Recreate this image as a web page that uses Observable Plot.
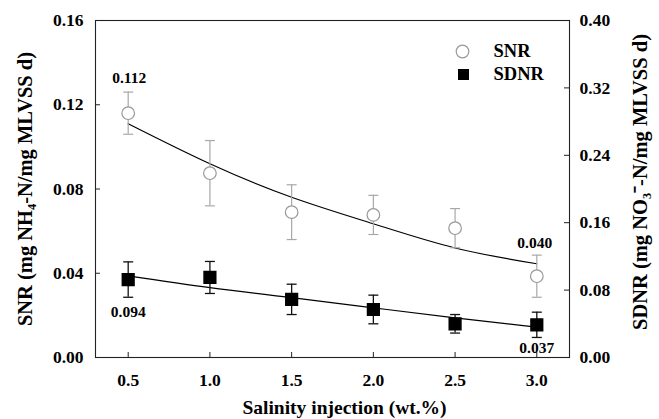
<!DOCTYPE html>
<html><head><meta charset="utf-8">
<script src="https://cdn.jsdelivr.net/npm/d3@7"></script>
<script src="https://cdn.jsdelivr.net/npm/@observablehq/plot@0.6"></script>
<style>
body{margin:0;background:#fff}
svg{display:block}
</style>
</head><body><div id="chart"></div>
<script>
// ---- data ----
const salinity = [0.5, 1.0, 1.5, 2.0, 2.5, 3.0];
const snr      = [0.116, 0.0875, 0.069, 0.0677, 0.0614, 0.0386];   // left axis units
const snrErr   = [0.010, 0.0155, 0.013, 0.0093, 0.0093, 0.010];
const sdnr     = [0.0925, 0.095, 0.069, 0.057, 0.040, 0.0388];     // right axis units
const sdnrErr  = [0.021, 0.019, 0.018, 0.017, 0.011, 0.015];
const snrFit   = [0.111, 0.092, 0.0761, 0.0635, 0.052, 0.0445];    // fitted curve (left units)
const sdnrFit  = [0.097, 0.083, 0.071, 0.059, 0.047, 0.036];       // fitted curve (right units)

const xTicks = [0.5, 1.0, 1.5, 2.0, 2.5, 3.0];
const xTickLabels = ["0.5", "1.0", "1.5", "2.0", "2.5", "3.0"];
const yTicks = [0, 0.04, 0.08, 0.12, 0.16];
const yTickLabels = ["0.00", "0.04", "0.08", "0.12", "0.16"];
const y2Ticks = [0, 0.08, 0.16, 0.24, 0.32, 0.40];
const y2TickLabels = ["0.00", "0.08", "0.16", "0.24", "0.32", "0.40"];
const legendLabels = ["SNR", "SDNR"];
const pointLabels = ["0.112", "0.094", "0.040", "0.037"];
const xTitle = "Salinity injection (wt.%)";
const yTitle = "SNR (mg NH\u2084-N/mg MLVSS d)";
const y2Title = "SDNR (mg NO\u2083\u207B-N/mg MLVSS d)";

const yMax = 0.16, y2Max = 0.40;
const ratio = y2Max / yMax;

const snrData = salinity.map((x, i) => ({x, y: snr[i], lo: snr[i] - snrErr[i], hi: snr[i] + snrErr[i], fit: snrFit[i]}));
const sdnrData = salinity.map((x, i) => ({x, y: sdnr[i] / ratio, lo: (sdnr[i] - sdnrErr[i]) / ratio, hi: (sdnr[i] + sdnrErr[i]) / ratio, fit: sdnrFit[i] / ratio}));

const capSymbol = {draw(ctx, size) { const r = Math.sqrt(size / Math.PI); ctx.moveTo(-r, 0); ctx.lineTo(r, 0); }};
const xLab = new Map(xTicks.map((t, i) => [t, xTickLabels[i]]));
const yLab = new Map(yTicks.map((t, i) => [t, yTickLabels[i]]));

const FONT = "Liberation Serif";
const snrGray = "#a8a8a8";
const frameH = 337, frameW = 474, tk = 5;
const T = {fontFamily: FONT, fontWeight: "bold"};

const chart = Plot.plot({
  width: 659, height: 419,
  marginLeft: 95, marginRight: 90, marginTop: 20, marginBottom: 62,
  style: "font-family: 'Liberation Serif', serif; font-size: 17.5px; font-weight: bold; color: black; background: white;",
  x: {domain: [0.3, 3.2], axis: null},
  y: {domain: [0, yMax], axis: null},
  marks: [
    // axes tick labels
    Plot.axisX(xTicks, {label: null, tickSize: 0, tickPadding: 16, tickFormat: d => xLab.get(d), fontSize: 17.5, ...T}),
    Plot.axisY(yTicks, {label: null, tickSize: 0, tickPadding: 12, tickFormat: d => yLab.get(d), fontSize: 17.5, ...T}),
    Plot.text(y2Ticks, {y: d => d / ratio, text: (d, i) => y2TickLabels[i], frameAnchor: "right", dx: 10, textAnchor: "start", fontSize: 17.5, ...T}),
    // inward ticks
    Plot.tickY(yTicks, {y: d => d, insetRight: frameW - tk, stroke: "#222"}),
    Plot.tickY(y2Ticks, {y: d => d / ratio, insetLeft: frameW - tk, stroke: "#222"}),
    Plot.tickX(xTicks, {x: d => d, insetTop: frameH - tk, stroke: "#222"}),
    Plot.frame({stroke: "#222", strokeWidth: 1.1}),
    // axis titles
    Plot.text([xTitle], {frameAnchor: "bottom", dy: 50, dx: 12, text: d => d, textAnchor: "middle", lineAnchor: "middle", fontSize: 19.5, ...T}),
    Plot.text([yTitle], {frameAnchor: "left", dx: -70, rotate: -90, text: d => d, textAnchor: "middle", lineAnchor: "middle", fontSize: 20.5, ...T}),
    Plot.text([y2Title], {frameAnchor: "right", dx: 71, dy: -7, rotate: -90, text: d => d, textAnchor: "middle", lineAnchor: "middle", fontSize: 20.5, ...T}),
    // fitted curves
    Plot.line(snrData, {x: "x", y: "fit", curve: "natural", stroke: "black", strokeWidth: 1.2}),
    Plot.line(sdnrData, {x: "x", y: "fit", curve: "natural", stroke: "black", strokeWidth: 1.2}),
    // error bars
    Plot.ruleX(snrData, {x: "x", y1: "lo", y2: "hi", stroke: snrGray, strokeWidth: 1.2}),
    Plot.dot(snrData, {x: "x", y: "hi", symbol: capSymbol, r: 5, stroke: snrGray, strokeWidth: 1.2}),
    Plot.dot(snrData, {x: "x", y: "lo", symbol: capSymbol, r: 5, stroke: snrGray, strokeWidth: 1.2}),
    Plot.ruleX(sdnrData, {x: "x", y1: "lo", y2: "hi", stroke: "#111", strokeWidth: 1.3}),
    Plot.dot(sdnrData, {x: "x", y: "hi", symbol: capSymbol, r: 5, stroke: "#111", strokeWidth: 1.3}),
    Plot.dot(sdnrData, {x: "x", y: "lo", symbol: capSymbol, r: 5, stroke: "#111", strokeWidth: 1.3}),
    // markers
    Plot.dot(snrData, {x: "x", y: "y", symbol: "circle", r: 6.3, stroke: "#999", fill: "white", strokeWidth: 1.2}),
    Plot.dot(sdnrData, {x: "x", y: "y", symbol: "square", r: 6.6, fill: "black", stroke: "black"}),
    // point value labels
    Plot.text([pointLabels[0]], {x: salinity[0], y: snr[0], dy: -35, dx: 1, text: d => d, fontSize: 15.5, ...T}),
    Plot.text([pointLabels[1]], {x: salinity[0], y: sdnr[0] / ratio, dy: 32, text: d => d, fontSize: 15.5, ...T}),
    Plot.text([pointLabels[2]], {x: salinity[5], y: snr[5], dy: -33, dx: -2, text: d => d, fontSize: 15.5, ...T}),
    Plot.text([pointLabels[3]], {x: salinity[5], y: sdnr[5] / ratio, dy: 23, text: d => d, fontSize: 15.5, ...T}),
    // legend
    Plot.dot([legendLabels[0]], {frameAnchor: "top-right", dx: -107, dy: 31, symbol: "circle", r: 6.3, stroke: "#999", fill: "white", strokeWidth: 1.2}),
    Plot.dot([legendLabels[1]], {frameAnchor: "top-right", dx: -106, dy: 54, symbol: "square", r: 6.2, fill: "black"}),
    Plot.text([legendLabels[0]], {frameAnchor: "top-right", dx: -76, dy: 31, text: d => d, textAnchor: "start", lineAnchor: "middle", fontSize: 18.5, ...T}),
    Plot.text([legendLabels[1]], {frameAnchor: "top-right", dx: -76, dy: 54, text: d => d, textAnchor: "start", lineAnchor: "middle", fontSize: 18.5, ...T})
  ]
});
d3.select(chart).selectAll("text").attr("font-family", FONT).style("font-family", "'Liberation Serif', serif").style("font-weight", "bold").attr("fill", "black");
document.getElementById("chart").appendChild(chart);
</script>
</body></html>
